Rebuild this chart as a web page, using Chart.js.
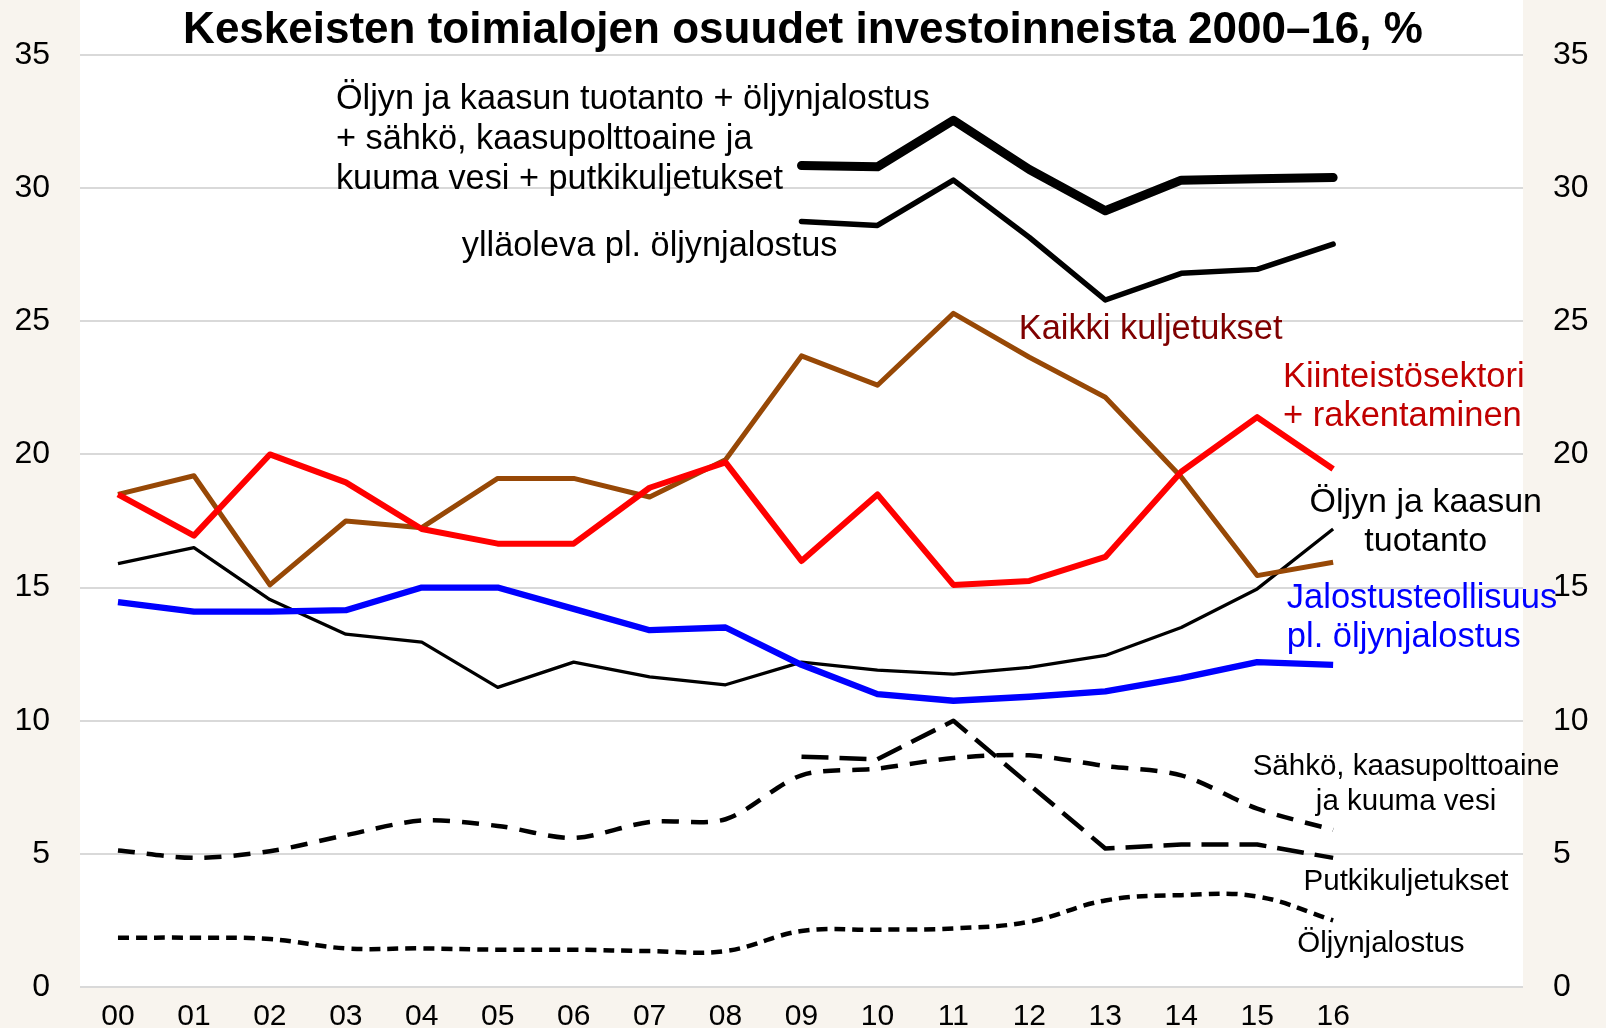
<!DOCTYPE html>
<html>
<head>
<meta charset="utf-8">
<script src="https://cdn.jsdelivr.net/npm/chart.js@4.4.0/dist/chart.umd.min.js"></script>
<style>
  html, body { margin: 0; padding: 0; background: #f8f4ee; }
  canvas { display: block; }
</style>
</head>
<body>
<canvas id="chart" width="1606" height="1028"></canvas>
<script>
const years = ["00", "01", "02", "03", "04", "05", "06", "07", "08", "09", "10", "11", "12", "13", "14", "15", "16"];
// two empty slots on the right leave room for the series labels
const xLabels = [...years, "", ""];

const energyTotal = [null, null, null, null, null, null, null, null, null, 30.85, 30.8, 32.55, 30.7, 29.15, 30.3, 30.35, 30.4];
const energyExRefining = [null, null, null, null, null, null, null, null, null, 28.75, 28.6, 30.3, 28.15, 25.8, 26.8, 26.95, 27.9];
const transport = [18.5, 19.2, 15.1, 17.5, 17.25, 19.1, 19.1, 18.4, 19.8, 23.7, 22.6, 25.3, 23.65, 22.15, 19.15, 15.45, 15.95];
const realEstate = [18.5, 16.95, 20.0, 18.95, 17.2, 16.65, 16.65, 18.75, 19.7, 16.0, 18.5, 15.1, 15.25, 16.15, 19.35, 21.4, 19.45];
const oilGas = [15.9, 16.5, 14.55, 13.25, 12.95, 11.25, 12.2, 11.65, 11.35, 12.2, 11.9, 11.75, 12.0, 12.45, 13.5, 14.95, 17.2];
const manufacturing = [14.45, 14.1, 14.1, 14.15, 15.0, 15.0, 14.2, 13.4, 13.5, 12.1, 11.0, 10.75, 10.9, 11.1, 11.6, 12.2, 12.1];
const electricity = [5.13, 4.85, 5.1, 5.7, 6.25, 6.05, 5.6, 6.2, 6.3, 7.95, 8.2, 8.6, 8.7, 8.3, 7.95, 6.7, 5.9];
const pipelines = [null, null, null, null, null, null, null, null, null, 8.65, 8.55, 10.0, 7.6, 5.2, 5.35, 5.35, 4.85];
const refining = [1.85, 1.85, 1.8, 1.45, 1.45, 1.4, 1.4, 1.35, 1.35, 2.1, 2.15, 2.2, 2.45, 3.25, 3.45, 3.4, 2.5];

const FONT = "'Liberation Sans', Arial, sans-serif";

// series labels, placed in axis units (category index, value)
const seriesLabels = [
  { lines: ["Öljyn ja kaasun tuotanto + öljynjalostus", "+ sähkö, kaasupolttoaine ja", "kuuma vesi + putkikuljetukset"], x: 2.87, y: 33.31, align: "left", color: "#000", size: 34.3, gap: 40 },
  { lines: ["ylläoleva pl. öljynjalostus"], x: 7.0, y: 27.81, align: "center", color: "#000", size: 34.3, gap: 40 },
  { lines: ["Kaikki kuljetukset"], x: 11.86, y: 24.69, align: "left", color: "#7f0000", size: 34.4, gap: 40 },
  { lines: ["Kiinteistösektori", "+ rakentaminen"], x: 15.34, y: 22.88, align: "left", color: "#c00000", size: 34.5, gap: 39 },
  { lines: ["Öljyn ja kaasun", "tuotanto"], x: 17.22, y: 18.18, align: "center", color: "#000", size: 34, gap: 39 },
  { lines: ["Jalostusteollisuus", "pl. öljynjalostus"], x: 15.39, y: 14.6, align: "left", color: "#0000ff", size: 34.5, gap: 39 },
  { lines: ["Sähkö, kaasupolttoaine", "ja kuuma vesi"], x: 16.96, y: 8.28, align: "center", color: "#000", size: 29.5, gap: 35 },
  { lines: ["Putkikuljetukset"], x: 16.96, y: 3.95, align: "center", color: "#000", size: 29.5, gap: 35 },
  { lines: ["Öljynjalostus"], x: 16.63, y: 1.62, align: "center", color: "#000", size: 29.5, gap: 35 }
];

const plotBackground = {
  id: "plotBackground",
  beforeDraw(chart) {
    const { ctx, chartArea } = chart;
    ctx.save();
    ctx.fillStyle = "#f8f4ee";
    ctx.fillRect(0, 0, chart.width, chart.height);
    ctx.fillStyle = "#ffffff";
    ctx.fillRect(chartArea.left, 0, chartArea.right - chartArea.left, chartArea.bottom);
    ctx.restore();
  }
};

const labelPlugin = {
  id: "labelPlugin",
  afterDatasetsDraw(chart) {
    const { ctx } = chart;
    const xs = chart.scales.x, ys = chart.scales.y;
    ctx.save();
    ctx.textBaseline = "middle";
    seriesLabels.forEach(l => {
      ctx.font = l.size + "px " + FONT;
      ctx.fillStyle = l.color;
      ctx.textAlign = l.align;
      const px = xs.getPixelForValue(l.x);
      const py = ys.getPixelForValue(l.y);
      l.lines.forEach((t, i) => ctx.fillText(t, px, py + i * l.gap));
    });
    ctx.restore();
  }
};

const line = (data, color, width, extra) => Object.assign({
  data: data,
  borderColor: color,
  backgroundColor: color,
  borderWidth: width,
  pointRadius: 0,
  fill: false,
  tension: 0,
  borderJoinStyle: "round",
  spanGaps: false
}, extra || {});

// fixed axis widths; the big tick padding should not push the plot up
const fitY = width => scale => {
  scale.width = width;
  scale.paddingTop = 20;
  scale.paddingBottom = 20;
};

new Chart(document.getElementById("chart"), {
  type: "line",
  data: {
    labels: xLabels,
    datasets: [
      line(realEstate, "#ff0000", 6),
      line(manufacturing, "#0000ff", 6.3),
      line(transport, "#974806", 5),
      line(oilGas, "#000000", 3.3),
      line(energyTotal, "#000000", 9, { borderCapStyle: "round" }),
      line(energyExRefining, "#000000", 5.5, { borderCapStyle: "round" }),
      line(pipelines, "#000000", 4.5, { borderDash: [27, 11] }),
      line(electricity, "#000000", 4.5, { borderDash: [17, 12], tension: 0.3 }),
      line(refining, "#000000", 4.5, { borderDash: [11, 7], tension: 0.4 })
    ]
  },
  options: {
    responsive: false,
    animation: false,
    layout: { padding: 0 },
    plugins: {
      legend: { display: false },
      tooltip: { enabled: false },
      title: {
        display: true,
        text: "Keskeisten toimialojen osuudet investoinneista 2000–16, %",
        color: "#000",
        font: { family: FONT, size: 44, weight: "bold", lineHeight: 1.08 },
        padding: { top: 7, bottom: 0.5 }
      }
    },
    scales: {
      x: {
        type: "category",
        offset: true,
        grid: { display: false, drawTicks: false },
        border: { display: false },
        ticks: { color: "#000", font: { family: FONT, size: 30 }, padding: 12, autoSkip: false, maxRotation: 0 },
        afterFit(scale) { scale.height = 41; }
      },
      y: {
        position: "left",
        min: 0,
        max: 35,
        grid: { color: "#d9d9d9", lineWidth: 2, drawTicks: false },
        border: { display: false },
        ticks: { stepSize: 5, color: "#000", font: { family: FONT, size: 32 }, padding: 30 },
        afterFit: fitY(80)
      },
      y2: {
        position: "right",
        min: 0,
        max: 35,
        grid: { display: false, drawTicks: false },
        border: { display: false },
        ticks: { stepSize: 5, color: "#000", font: { family: FONT, size: 32 }, padding: 30 },
        afterFit: fitY(83)
      }
    }
  },
  plugins: [plotBackground, labelPlugin]
});
</script>
</body>
</html>
